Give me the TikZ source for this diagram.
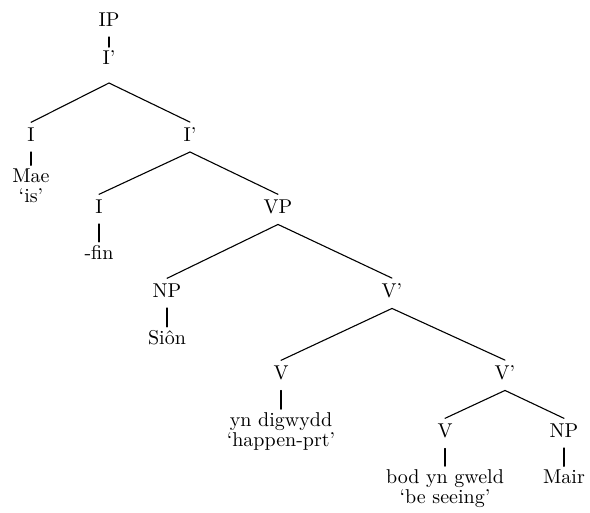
\documentclass[tikz,border=0pt]{standalone}
\usepackage{graphicx}
\newcommand\lbl[1]{\scalebox{2}{#1}}
\newcommand\lf[2]{\scalebox{2}{\begin{tabular}[t]{@{}c@{}}#1\\#2\end{tabular}}}
\newcommand\br[2]{\draw[edge] ([yshift=-10pt]#1.south) -- ([yshift=6pt]#2.north);}
\newcommand\un[2]{\draw[edge] ([yshift=-10pt]#1.south) -- ([yshift=4pt]#2.north);}
\begin{document}
\begin{tikzpicture}[x=1pt,y=-1pt,
  every node/.style={font=\fontsize{10}{9.75}\selectfont, inner sep=0pt, outer sep=0pt, anchor=base},
  edge/.style={line width=1.1pt, line cap=round}]
\useasboundingbox (0,0) rectangle (590,513);
% nodes
\node (ip)   at (109,27)  {\lbl{IP}};
\node (ib)   at (109,65)  {\lbl{I'}};
\node (i1)   at (31,142)  {\lbl{I}};
\node (ib2)  at (190,142) {\lbl{I'}};
\node (mae)  at (31,183)  {\lf{Mae}{`is'}};
\node (i2)   at (99,214)  {\lbl{I}};
\node (vp)   at (278,214) {\lbl{VP}};
\node (fin)  at (99,260)  {\lbl{-fin}};
\node (np1)  at (167,298) {\lbl{NP}};
\node (vb1)  at (392,298) {\lbl{V'}};
\node (sion) at (167,345) {\lbl{Siôn}};
\node (v1)   at (281,380) {\lbl{V}};
\node (vb2)  at (505,380) {\lbl{V'}};
\node (dig)  at (281,427) {\lf{yn digwydd}{`happen-prt'}};
\node (v2)   at (445,438) {\lbl{V}};
\node (np2)  at (564,438) {\lbl{NP}};
\node (bod)  at (445,484) {\lf{bod yn gweld}{`be seeing'}};
\node (mair) at (564,484) {\lbl{Mair}};
% connectors
\un{ip}{ib}
\draw[edge] ([yshift=-18pt]ib.south) -- ([yshift=6pt]i1.north);
\draw[edge] ([yshift=-18pt]ib.south) -- ([yshift=6pt]ib2.north);
\un{i1}{mae}
\br{ib2}{i2}
\br{ib2}{vp}
\un{i2}{fin}
\br{vp}{np1}
\br{vp}{vb1}
\un{np1}{sion}
\br{vb1}{v1}
\br{vb1}{vb2}
\un{v1}{dig}
\br{vb2}{v2}
\br{vb2}{np2}
\un{v2}{bod}
\un{np2}{mair}
\end{tikzpicture}
\end{document}
